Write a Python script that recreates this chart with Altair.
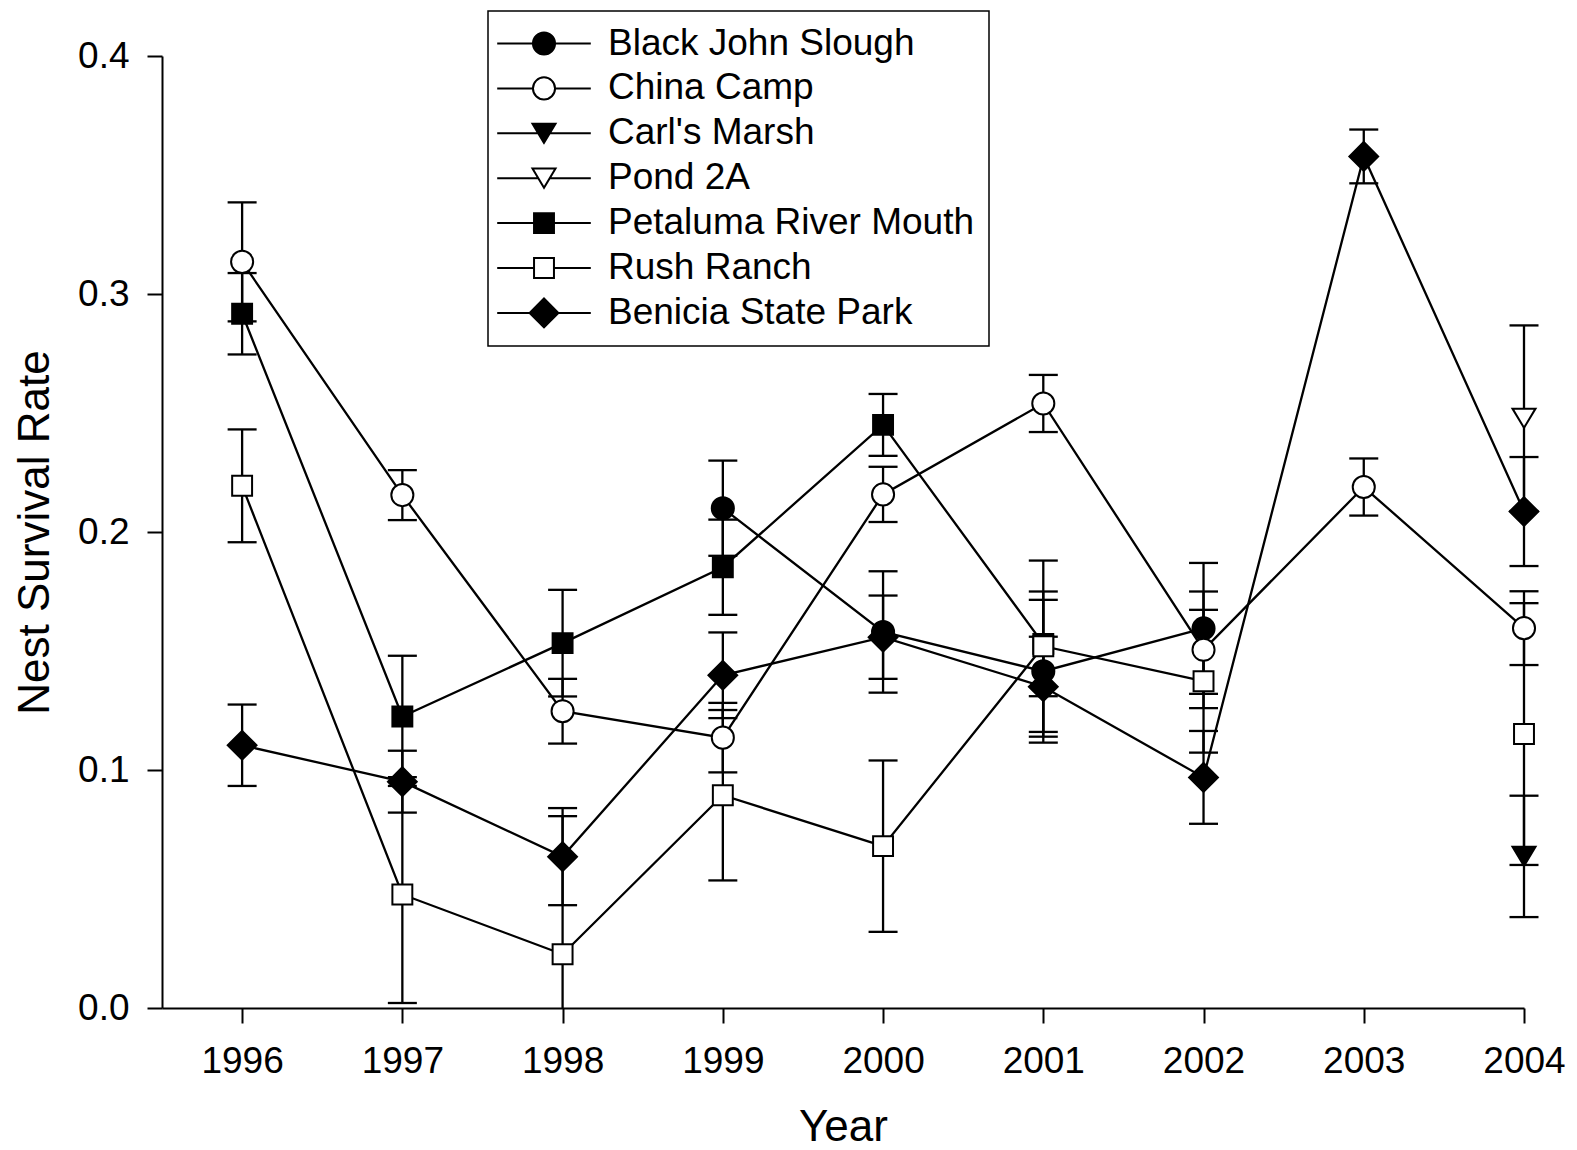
import altair as alt
import pandas as pd

# ---------------- data ----------------
SITES = ["Black John Slough", "China Camp", "Carl's Marsh", "Pond 2A",
         "Petaluma River Mouth", "Rush Ranch", "Benicia State Park"]
FILLS = ["black", "white", "black", "white", "black", "white", "black"]
YEARS = [1996, 1997, 1998, 1999, 2000, 2001, 2002, 2003, 2004]
Y_TICKS = [0.0, 0.1, 0.2, 0.3, 0.4]

bjs_years = [1999, 2000, 2001, 2002]
bjs_rate = [0.210, 0.158, 0.1415, 0.1595]
bjs_se = [0.020, 0.0255, 0.030, 0.0275]

cc_years = [1996, 1997, 1998, 1999, 2000, 2001, 2002, 2003, 2004]
cc_rate = [0.3135, 0.2155, 0.1247, 0.1136, 0.2158, 0.254, 0.1505, 0.2189, 0.1596]
cc_se = [0.025, 0.0105, 0.0136, 0.0146, 0.0116, 0.012, 0.0245, 0.012, 0.0155]

carl_years = [2004]
carl_rate = [0.0637]
carl_se = [0.0255]

pond_years = [2004]
pond_rate = [0.2478]
pond_se = [0.039]

pet_years = [1996, 1997, 1998, 1999, 2000, 2001]
pet_rate = [0.2917, 0.1225, 0.1533, 0.1852, 0.245, 0.153]
pet_se = [0.0171, 0.0255, 0.0224, 0.020, 0.013, 0.022]

rush_years = [1996, 1997, 1998, 1999, 2000, 2001, 2002, 2004]
rush_rate = [0.2194, 0.0477, 0.0226, 0.0894, 0.068, 0.152, 0.1373, 0.1151]
rush_se = [0.0237, 0.0456, 0.058, 0.0358, 0.036, 0.036, 0.030, 0.055]

ben_years = [1996, 1997, 1998, 1999, 2000, 2001, 2002, 2003, 2004]
ben_rate = [0.1104, 0.0951, 0.0636, 0.1398, 0.1558, 0.135, 0.0969, 0.3578, 0.2086]
ben_se = [0.0171, 0.013, 0.0204, 0.018, 0.0175, 0.021, 0.0195, 0.0113, 0.0229]

# drawing order (later on top)
series = [
    ("Benicia State Park", ben_years, ben_rate, ben_se),
    ("Petaluma River Mouth", pet_years, pet_rate, pet_se),
    ("Carl's Marsh", carl_years, carl_rate, carl_se),
    ("Pond 2A", pond_years, pond_rate, pond_se),
    ("Black John Slough", bjs_years, bjs_rate, bjs_se),
    ("China Camp", cc_years, cc_rate, cc_se),
    ("Rush Ranch", rush_years, rush_rate, rush_se),
]

rows = []
for site, yrs, vals, ses in series:
    seg = 0
    prev = None
    for yr, v, s in zip(yrs, vals, ses):
        if prev is not None and yr - prev > 1:
            seg += 1
        prev = yr
        rows.append({"site": site, "year": yr, "rate": v,
                     "lo": v - s, "hi": v + s, "grp": f"{site}-{seg}"})
df = pd.DataFrame(rows)

# ---------------- symbols ----------------
CIRC = "M0.92,0A0.92,0.92,0,1,1,-0.92,0A0.92,0.92,0,1,1,0.92,0Z"
TRI = "M0,0.8L-0.96,-0.8L0.96,-0.8Z"
SQR = "M-0.83,-0.83L0.83,-0.83L0.83,0.83L-0.83,0.83Z"
DIA = "M0,-1.2L1.2,0L0,1.2L-1.2,0Z"
SHAPES = [CIRC, CIRC, TRI, TRI, SQR, SQR, DIA]


def seg(a):
    return f"M-3.9,0L-{a},0M{a},0L3.9,0"


LEG_SHAPES = [seg(0.92) + CIRC, seg(0.92) + CIRC, seg(0.48) + TRI, seg(0.48) + TRI,
              seg(0.83) + SQR, seg(0.83) + SQR, seg(1.2) + DIA]
LEG_STROKES = ["black"] * 7

FONT = "Liberation Sans"

x_enc = alt.X("year:Q",
              scale=alt.Scale(domain=[1995.5, 2004], nice=False, zero=False),
              axis=alt.Axis(values=YEARS, format="d", title="Year",
                            labelFlush=False, labelOverlap=False,
                            labelPadding=20, titlePadding=26))
y_enc = alt.Y("rate:Q",
              scale=alt.Scale(domain=[0, 0.4], nice=False),
              axis=alt.Axis(values=Y_TICKS, format=".1f", title="Nest Survival Rate",
                            labelFlush=False, labelOverlap=False,
                            labelPadding=18, titlePadding=20))

base = alt.Chart(df)

rules = base.transform_calculate(lo_c="max(datum.lo, 0)").mark_rule(
    color="black", strokeWidth=2.3).encode(x=x_enc, y=alt.Y("lo_c:Q"), y2="hi:Q")
cap_hi = base.mark_tick(orient="horizontal", color="black", size=29, thickness=2.3,
                        opacity=1).encode(x="year:Q", y="hi:Q")
cap_lo = base.transform_filter("datum.lo >= 0").mark_tick(
    orient="horizontal", color="black", size=29, thickness=2.3,
    opacity=1).encode(x="year:Q", y="lo:Q")
lines = base.mark_line(color="black", strokeWidth=2.3).encode(
    x="year:Q", y=y_enc, detail="grp:N")
points = base.mark_point(filled=True, stroke="black", strokeWidth=2, size=576,
                         opacity=1).encode(
    x="year:Q", y="rate:Q",
    shape=alt.Shape("site:N", scale=alt.Scale(domain=SITES, range=SHAPES), legend=None),
    fill=alt.Fill("site:N", scale=alt.Scale(domain=SITES, range=FILLS), legend=None),
)

legend_opts = dict(
    title=None, orient="none", legendX=326, legendY=-45,
    padding=14, strokeColor="black", fillColor="white",
    rowPadding=6.9, symbolOffset=23.5, labelOffset=45.5,
    labelFontSize=37, labelFont=FONT, labelColor="black",
    labelLimit=0, symbolSize=576, symbolStrokeWidth=2,
    symbolStrokeColor="black",
)

legend_layer = base.transform_filter("false").mark_point(
    filled=False, strokeWidth=2, size=576, opacity=1).encode(
    x="year:Q", y="rate:Q",
    shape=alt.Shape("site:N", scale=alt.Scale(domain=SITES, range=LEG_SHAPES),
                    legend=alt.Legend(**legend_opts)),
    fill=alt.Fill("site:N", scale=alt.Scale(domain=SITES, range=FILLS),
                  legend=alt.Legend(**legend_opts)),
    stroke=alt.Stroke("site:N", scale=alt.Scale(domain=SITES, range=LEG_STROKES),
                      legend=alt.Legend(**legend_opts)),
)

chart = alt.layer(rules, cap_hi, cap_lo, lines, points, legend_layer).resolve_scale(
    shape="independent", fill="independent", stroke="independent"
).properties(
    width=1362, height=952,
    padding={"left": 162, "top": 56, "right": 53, "bottom": 142},
    autosize=alt.AutoSizeParams(type="none"),
    background="white",
).configure_view(stroke=None).configure_axis(
    grid=False, domainColor="black", domainWidth=2, tickColor="black", tickWidth=2,
    tickSize=15, labelFont=FONT, labelFontSize=37, labelColor="black",
    titleFont=FONT, titleFontSize=44, titleFontWeight="normal", titleColor="black",
).configure_legend(strokeWidth=1.5)

chart.save("out.html", embed_options={"renderer": "svg", "actions": False})
